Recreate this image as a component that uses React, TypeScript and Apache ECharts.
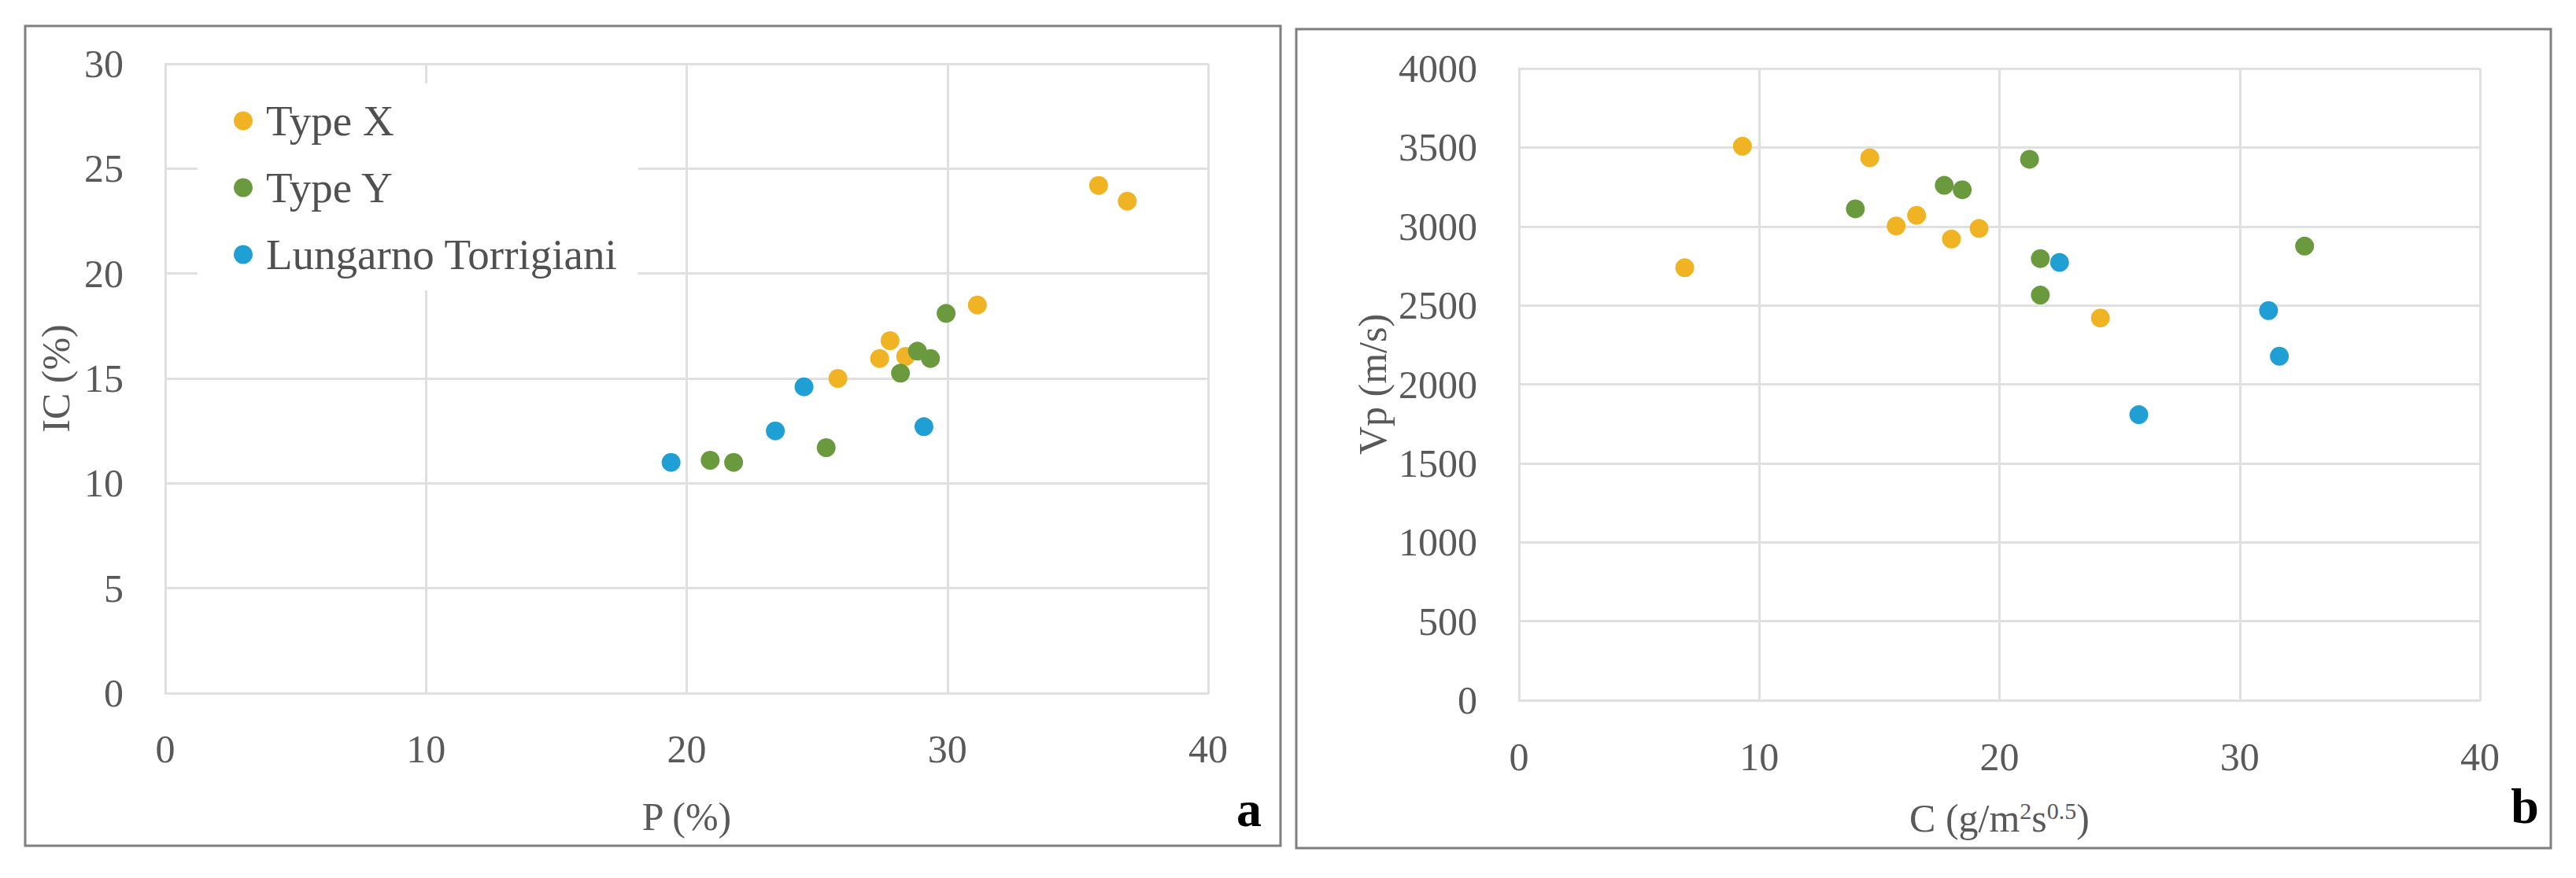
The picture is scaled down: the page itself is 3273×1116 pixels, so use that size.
import React, { useEffect, useRef } from 'react';
import * as echarts from 'echarts';

const seriesNames = ['Type X', 'Type Y', 'Lungarno Torrigiani'];
const seriesColors = ['#F0B323', '#6B9A3E', '#1F9FD3'];

// Panel a: P (%) vs IC (%)
const aTypeX = [[25.8, 15.0], [27.4, 15.95], [27.8, 16.8], [28.4, 16.05], [31.15, 18.5], [35.8, 24.2], [36.9, 23.45]];
const aTypeY = [[20.9, 11.1], [21.8, 11.0], [25.35, 11.7], [28.2, 15.25], [28.85, 16.3], [29.35, 15.95], [29.95, 18.1]];
const aLungarno = [[19.4, 11.0], [23.4, 12.5], [24.5, 14.6], [29.1, 12.7]];

// Panel b: C (g/m2 s0.5) vs Vp (m/s)
const bTypeX = [[6.9, 2738], [9.3, 3508], [14.6, 3434], [15.7, 3003], [16.55, 3070], [18.0, 2920], [19.15, 2987], [24.2, 2420]];
const bTypeY = [[14.0, 3111], [17.7, 3260], [18.45, 3232], [21.25, 3425], [21.7, 2796], [21.7, 2565], [32.7, 2875]];
const bLungarno = [[22.5, 2772], [25.8, 1808], [31.2, 2467], [31.65, 2178]];

const aXTicks = [0, 10, 20, 30, 40];
const aYTicks = [0, 5, 10, 15, 20, 25, 30];
const bXTicks = [0, 10, 20, 30, 40];
const bYTicks = [0, 500, 1000, 1500, 2000, 2500, 3000, 3500, 4000];

const FONT = '"Liberation Serif", "Times New Roman", serif';
const LABEL_COLOR = '#595959';
const GRID_COLOR = '#e0e0e0';

function tickLabel(margin: number) {
  return {
    fontFamily: FONT,
    fontSize: 50,
    color: LABEL_COLOR,
    lineHeight: 50,
    margin,
    formatter: (v: number) => String(v),
  };
}

function valueAxis(ticks: number[], gridIndex: number, extra: any) {
  return {
    type: 'value',
    gridIndex,
    min: ticks[0],
    max: ticks[ticks.length - 1],
    interval: ticks[1] - ticks[0],
    axisLine: { show: true, lineStyle: { color: GRID_COLOR, width: 3 } },
    axisTick: { show: false },
    splitLine: { show: true, lineStyle: { color: GRID_COLOR, width: 3 } },
    nameTextStyle: { fontFamily: FONT, fontSize: 50, color: LABEL_COLOR, lineHeight: 50 },
    ...extra,
  };
}

function scatter(name: string, data: number[][], color: string, idx: number) {
  return {
    type: 'scatter',
    name,
    data,
    xAxisIndex: idx,
    yAxisIndex: idx,
    symbol: 'circle',
    symbolSize: 24,
    itemStyle: { color, opacity: 1 },
  };
}

export default function App() {
  const ref = useRef<HTMLDivElement>(null);
  useEffect(() => {
    if (!ref.current) return;
    const chart = echarts.init(ref.current, undefined, { renderer: 'svg' });
    const option: any = {
      animation: false,
      backgroundColor: '#ffffff',
      grid: [
        { left: 210, top: 81, width: 1325, height: 800 },
        { left: 1930, top: 87, width: 1221, height: 803 },
      ],
      xAxis: [
        valueAxis(aXTicks, 0, {
          axisLabel: tickLabel(46),
          name: 'P (%)',
          nameLocation: 'middle',
          nameGap: 132,
        }),
        valueAxis(bXTicks, 1, {
          axisLabel: tickLabel(47),
          name: 'C (g/m{sup|2}s{sup|0.5})',
          nameLocation: 'middle',
          nameGap: 125,
          nameTextStyle: {
            fontFamily: FONT, fontSize: 50, color: LABEL_COLOR, lineHeight: 50,
            rich: { sup: { fontFamily: FONT, fontSize: 30, color: LABEL_COLOR, verticalAlign: 'top', lineHeight: 50 } },
          },
        }),
      ],
      yAxis: [
        valueAxis(aYTicks, 0, {
          axisLabel: tickLabel(53),
          name: 'IC (%)',
          nameLocation: 'middle',
          nameRotate: 90,
          nameGap: 114,
        }),
        valueAxis(bYTicks, 1, {
          axisLabel: tickLabel(53),
          name: 'Vp (m/s)',
          nameLocation: 'middle',
          nameRotate: 90,
          nameGap: 161,
        }),
      ],
      legend: {
        orient: 'vertical',
        left: 251,
        top: 106,
        padding: [20, 26, 18, 46],
        backgroundColor: '#ffffff',
        itemWidth: 24,
        itemHeight: 24,
        itemGap: 30,
        icon: 'circle',
        data: seriesNames,
        selectedMode: false,
        textStyle: { fontFamily: FONT, fontSize: 55, color: '#505050', lineHeight: 55, padding: [0, 0, 0, 12] },
      },
      series: [
        scatter(seriesNames[0], aTypeX, seriesColors[0], 0),
        scatter(seriesNames[1], aTypeY, seriesColors[1], 0),
        scatter(seriesNames[2], aLungarno, seriesColors[2], 0),
        scatter(seriesNames[0], bTypeX, seriesColors[0], 1),
        scatter(seriesNames[1], bTypeY, seriesColors[1], 1),
        scatter(seriesNames[2], bLungarno, seriesColors[2], 1),
      ],
      graphic: [
        {
          type: 'rect', silent: true,
          shape: { x: 32, y: 33, width: 1595, height: 1042 },
          style: { fill: 'none', stroke: '#7f7f7f', lineWidth: 3 },
        },
        {
          type: 'rect', silent: true,
          shape: { x: 1647, y: 37, width: 1594, height: 1041 },
          style: { fill: 'none', stroke: '#7f7f7f', lineWidth: 3 },
        },
        {
          type: 'text', x: 1587, y: 1028,
          style: { text: 'a', fontFamily: FONT, fontWeight: 'bold', fontSize: 64, fill: '#000000', textAlign: 'center', textVerticalAlign: 'middle' },
        },
        {
          type: 'text', x: 3208, y: 1024,
          style: { text: 'b', fontFamily: FONT, fontWeight: 'bold', fontSize: 64, fill: '#000000', textAlign: 'center', textVerticalAlign: 'middle' },
        },
      ],
    };
    chart.setOption(option);
    return () => chart.dispose();
  }, []);
  return (
    <div
      ref={ref}
      style={{ position: 'absolute', left: 0, top: 0, width: 3273, height: 1116, background: '#ffffff' }}
    />
  );
}
